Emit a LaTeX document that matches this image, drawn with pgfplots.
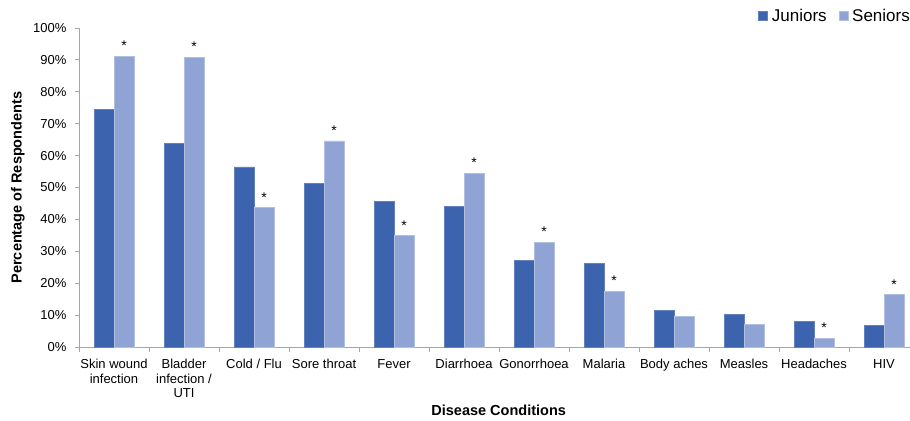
\documentclass[border=0pt]{standalone}
\usepackage{pgfplots}
\pgfplotsset{compat=1.18}
\usepackage{fontspec}
\setmainfont{Liberation Sans}
\definecolor{jun}{HTML}{3C63AD}
\definecolor{sen}{HTML}{8FA4D4}
\definecolor{axg}{HTML}{A6A6A6}
\begin{document}
\begin{tikzpicture}[x=1bp,y=1bp]
\path[use as bounding box] (0,0) rectangle (910,420);
\begin{axis}[
  at={(79bp,73bp)}, anchor=south west,
  scale only axis, width=831bp, height=319bp,
  xmin=-0.5, xmax=11.371, ymin=0, ymax=100,
  axis x line=bottom, axis y line=left,
  axis line style={-, axg, line width=1pt},
  ybar=0pt, bar width=20bp,
  ytick={0,10,...,100},
  yticklabel={\pgfmathprintnumber{\tick}\%},
  /pgf/number format/assume math mode=true,
  ytick style={axg, line width=0.8pt},
  tick align=outside, major tick length=4bp,
  yticklabel style={font=\fontsize{13bp}{15bp}\selectfont, xshift=-5bp},
  xtick={0,...,11},
  xtick style={draw=none},
  xticklabels={{Skin wound\\infection},{Bladder\\infection /\\UTI},{Cold / Flu},{Sore throat},{Fever},{Diarrhoea},{Gonorrhoea},{Malaria},{Body aches},{Measles},{Headaches},{HIV}},
  xticklabel style={font=\fontsize{13bp}{14.5bp}\selectfont, align=center, yshift=-5bp},
  extra x ticks={-0.5,0.5,...,10.5},
  extra x tick labels={},
  extra x tick style={xtick style={draw=axg, line width=0.8pt}, major tick length=5bp},
  xlabel={\textbf{Disease Conditions}},
  xlabel style={font=\fontsize{14.5bp}{16bp}\selectfont, at={(axis description cs:0.505,0)}, anchor=base, yshift=-68bp},
  ylabel={\textbf{Percentage of Respondents}},
  ylabel style={font=\fontsize{14.5bp}{16bp}\selectfont, at={(axis description cs:0,0.5)}, anchor=center, yshift=61bp},
  legend style={at={(1.006,1.072)}, anchor=north east, draw=none, fill=none, legend columns=2,
    font=\fontsize{17bp}{19bp}\selectfont, /tikz/every even column/.append style={column sep=10bp},
    /tikz/every odd column/.append style={column sep=2bp}},
  legend image code/.code={\fill[#1] (0bp,-4.5bp) rectangle (9bp,4.5bp);},
  nodes near coords style={font=\fontsize{14bp}{14bp}\selectfont, anchor=south, yshift=2bp},
]
\addplot[fill=jun, draw=jun!80!white, line width=0.5pt] coordinates {
 (0,74.6) (1,63.8) (2,56.5) (3,51.4) (4,45.7) (5,44.1) (6,27.2) (7,26.2) (8,11.5) (9,10.3) (10,8.0) (11,6.8)};
\addlegendentry{Juniors}
\addplot[fill=sen, draw=sen!70!white, line width=0.5pt,
  point meta=explicit symbolic, nodes near coords] coordinates {
 (0,91.2) [*] (1,90.8) [*] (2,43.7) [*] (3,64.6) [*] (4,34.9) [*] (5,54.4) [*] (6,32.9) [*] (7,17.5) [*] (8,9.6) [{}] (9,7.1) [{}] (10,2.8) [*] (11,16.4) [*]};
\addlegendentry{Seniors}
\end{axis}
\end{tikzpicture}
\end{document}
